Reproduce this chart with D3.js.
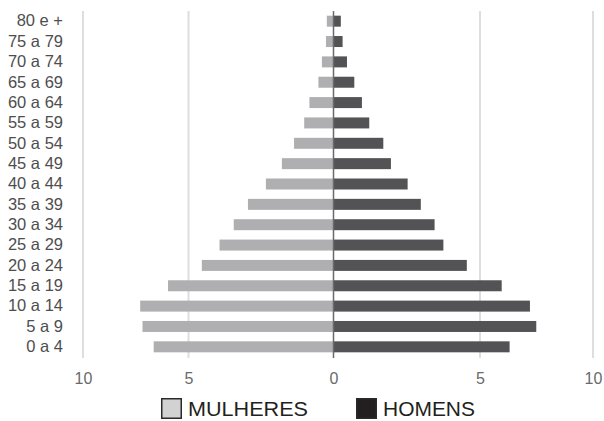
<!DOCTYPE html>
<html>
<head>
<meta charset="utf-8">
<script src="https://cdn.jsdelivr.net/npm/d3@7"></script>
<style>
body { margin: 0; background: #fff; }
text { font-family: "Liberation Sans", Arial, sans-serif; }
</style>
</head>
<body>
<svg></svg>
<script>
var screen = {width: 604, height: 421};

// faixas etarias, de cima para baixo
var ageGroups = ["80 e +", "75 a 79", "70 a 74", "65 a 69", "60 a 64", "55 a 59", "50 a 54",
                 "45 a 49", "40 a 44", "35 a 39", "30 a 34", "25 a 29", "20 a 24",
                 "15 a 19", "10 a 14", "5 a 9", "0 a 4"];
var mulheres = [0.23, 0.26, 0.40, 0.52, 0.83, 1.01, 1.36, 1.78, 2.33, 2.95, 3.44, 3.93, 4.54,
                5.97, 7.29, 7.18, 6.65];
var homens = [0.25, 0.31, 0.46, 0.71, 0.97, 1.22, 1.70, 1.96, 2.53, 2.98, 3.45, 3.75, 4.55,
              5.96, 7.21, 7.49, 6.31];
var tickValues = [-10, -5, 0, 5, 10];
var legendItems = ["MULHERES", "HOMENS"];

var rows = ageGroups.map(function(g, i) {
    return {age: g, f: mulheres[i], m: homens[i]};
});

var svg = d3.select("svg")
    .attr("width", screen.width)
    .attr("height", screen.height)
    .style("display", "block");

// the picture's axis is not evenly spaced, so a piecewise scale is used
var xScale = d3.scaleLinear()
    .domain(tickValues)
    .range([83, 188.5, 333.5, 480, 593]);

var yScale = d3.scaleBand()
    .domain(ageGroups)
    .range([11, 357])
    .paddingInner(0.46)
    .paddingOuter(0.23);

// grid
svg.append("g").attr("id", "grid")
    .selectAll("line")
    .data(tickValues.filter(function(t) { return t != 0; }))
    .enter()
    .append("line")
    .attr("x1", function(d) { return xScale(d); })
    .attr("x2", function(d) { return xScale(d); })
    .attr("y1", 11)
    .attr("y2", 358)
    .attr("stroke", "#dedede")
    .attr("stroke-width", 2);

var bars = svg.append("g").attr("id", "bars");

bars.selectAll(".f")
    .data(rows)
    .enter()
    .append("rect")
    .attr("class", "f")
    .attr("x", function(d) { return xScale(-d.f); })
    .attr("width", function(d) { return xScale(0) - xScale(-d.f); })
    .attr("y", function(d) { return yScale(d.age); })
    .attr("height", yScale.bandwidth())
    .attr("fill", "#afafb1");

bars.selectAll(".m")
    .data(rows)
    .enter()
    .append("rect")
    .attr("class", "m")
    .attr("x", xScale(0))
    .attr("width", function(d) { return xScale(d.m) - xScale(0); })
    .attr("y", function(d) { return yScale(d.age); })
    .attr("height", yScale.bandwidth())
    .attr("fill", "#535355");

// linha do zero
svg.append("line")
    .attr("x1", xScale(0))
    .attr("x2", xScale(0))
    .attr("y1", 11)
    .attr("y2", 358)
    .attr("stroke", "#6a6a6a")
    .attr("stroke-width", 1.5);

var xAxis = d3.axisBottom(xScale)
    .tickValues(tickValues)
    .tickSize(0)
    .tickPadding(15.5)
    .tickFormat(function(d) { return Math.abs(d); });

var yAxis = d3.axisLeft(yScale)
    .tickSize(0)
    .tickPadding(0);

svg.append("g")
    .attr("id", "xAxis")
    .attr("transform", "translate(0,357)")
    .call(xAxis);

svg.append("g")
    .attr("id", "yAxis")
    .attr("transform", "translate(63,0)")
    .call(yAxis);

svg.selectAll(".domain").remove();
svg.selectAll("#xAxis text")
    .attr("font-size", 16)
    .attr("fill", "#6a6a6a")
    .attr("font-family", null);
svg.selectAll("#yAxis text")
    .attr("font-size", 16.5)
    .attr("fill", "#4e4e4e")
    .attr("font-family", null);

// legenda
var legendX = [161, 356];
var legendFill = ["#d2d2d2", "#231f20"];

var gs = svg.append("g").attr("id", "legend")
    .selectAll("g")
    .data(legendItems)
    .enter()
    .append("g")
    .attr("transform", function(d, i) { return "translate(" + legendX[i] + ",398)"; });

gs.append("rect")
    .attr("x", 0.75)
    .attr("y", 0.75)
    .attr("width", 19.5)
    .attr("height", 19.5)
    .attr("fill", function(d, i) { return legendFill[i]; })
    .attr("stroke", "#2a2a2a")
    .attr("stroke-width", 1.5);

gs.append("text")
    .text(function(d) { return d; })
    .attr("x", 27)
    .attr("y", 18)
    .attr("font-size", 21)
    .attr("fill", "#231f20")
    .attr("textLength", function(d, i) { return i == 0 ? 120 : 92; })
    .attr("lengthAdjust", "spacingAndGlyphs");
</script>
</body>
</html>
